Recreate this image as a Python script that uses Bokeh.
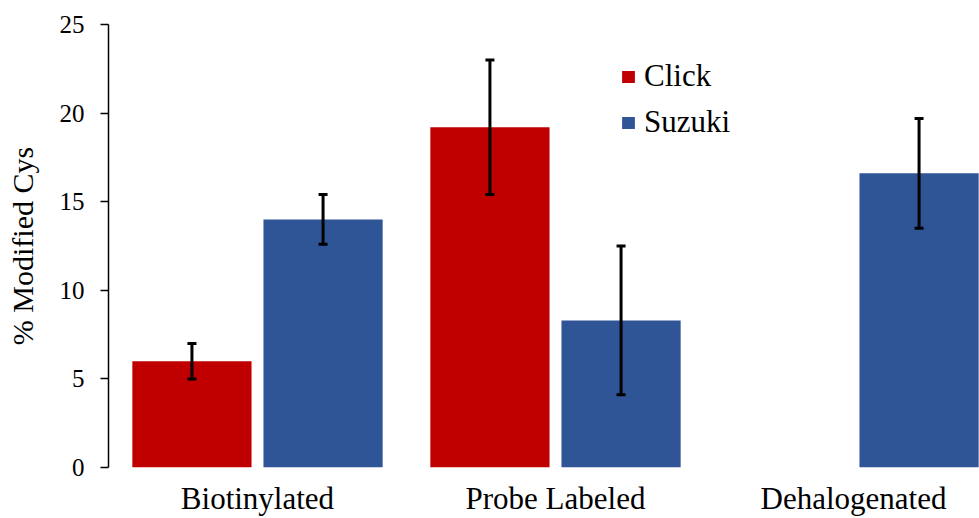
from bokeh.plotting import figure
from bokeh.models import (Range1d, FixedTicker, SingleIntervalTicker, ColumnDataSource,
                          Whisker, TeeHead, Legend, LegendItem)
from bokeh.embed import file_html
from bokeh.resources import INLINE

categories = ["Biotinylated", "Probe Labeled", "Dehalogenated"]
click = [6.0, 19.2, 0.0]
click_err = [1.0, 3.8, 0.0]
suzuki = [14.0, 8.3, 16.6]
suzuki_err = [1.4, 4.2, 3.1]

RED = "#C00000"
BLUE = "#2F5597"
FONT = "Liberation Serif"

centers = [i + 0.5 for i in range(len(categories))]
off = 0.22
bw = 0.40

p = figure(width=979, height=518, output_backend="svg", toolbar_location=None,
           x_range=Range1d(0, 871 / 298), y_range=Range1d(0, 25),
           min_border_left=108, min_border_right=0, min_border_top=24, min_border_bottom=51)
p.outline_line_color = None
p.xgrid.visible = False
p.ygrid.visible = False

src_c = ColumnDataSource(dict(x=[c - off for c in centers], top=click,
                              up=[v + e for v, e in zip(click, click_err)],
                              lo=[v - e for v, e in zip(click, click_err)]))
src_s = ColumnDataSource(dict(x=[c + off for c in centers], top=suzuki,
                              up=[v + e for v, e in zip(suzuki, suzuki_err)],
                              lo=[v - e for v, e in zip(suzuki, suzuki_err)]))

r_c = p.vbar(x="x", top="top", width=bw, bottom=0, source=src_c, fill_color=RED, line_color=None)
r_s = p.vbar(x="x", top="top", width=bw, bottom=0, source=src_s, fill_color=BLUE, line_color=None)

# error bars (skip zero-error entries)
for src, errs in ((src_c, click_err), (src_s, suzuki_err)):
    d = src.data
    keep = [i for i, e in enumerate(errs) if e > 0]
    es = ColumnDataSource(dict(x=[d["x"][i] for i in keep], up=[d["up"][i] for i in keep],
                               lo=[d["lo"][i] for i in keep]))
    w = Whisker(base="x", upper="up", lower="lo", source=es, dimension="height",
                line_color="black", line_width=3, level="overlay",
                upper_head=TeeHead(size=9, line_width=3, line_color="black"),
                lower_head=TeeHead(size=9, line_width=3, line_color="black"))
    p.add_layout(w)

# axes
yax = p.yaxis[0]
yax.ticker = SingleIntervalTicker(interval=5)
yax.axis_label = "% Modified Cys"
yax.axis_label_text_font = FONT
yax.axis_label_text_font_size = "30px"
yax.axis_label_text_font_style = "normal"
yax.axis_label_standoff = 18
yax.major_label_text_font = FONT
yax.major_label_text_font_size = "25px"
yax.major_label_standoff = 16
yax.major_tick_out = 8
yax.major_tick_in = 0
yax.minor_tick_line_color = None
yax.axis_line_width = 1.5
yax.major_tick_line_width = 1.5
yax.axis_line_color = "black"
yax.major_tick_line_color = "black"
yax.major_label_text_color = "black"
yax.axis_label_text_color = "black"

xax = p.xaxis[0]
xax.ticker = FixedTicker(ticks=centers)
xax.major_label_overrides = {c: name for c, name in zip(centers, categories)}
xax.major_label_text_font = FONT
xax.major_label_text_font_size = "31px"
xax.major_label_text_color = "black"
xax.major_label_standoff = 13
xax.major_tick_out = 0
xax.major_tick_in = 0
xax.axis_line_color = None
xax.major_tick_line_color = None
xax.minor_tick_line_color = None

legend = Legend(items=[LegendItem(label="Click", renderers=[r_c]),
                       LegendItem(label="Suzuki", renderers=[r_s])],
                location=(512, 327), orientation="vertical",
                border_line_color=None, background_fill_alpha=0,
                padding=0, margin=0, spacing=10,
                glyph_width=16, glyph_height=15, label_standoff=8,
                label_text_font=FONT, label_text_font_size="31px",
                label_text_color="black")
p.add_layout(legend)

open("out.html", "w").write(file_html(p, INLINE))
